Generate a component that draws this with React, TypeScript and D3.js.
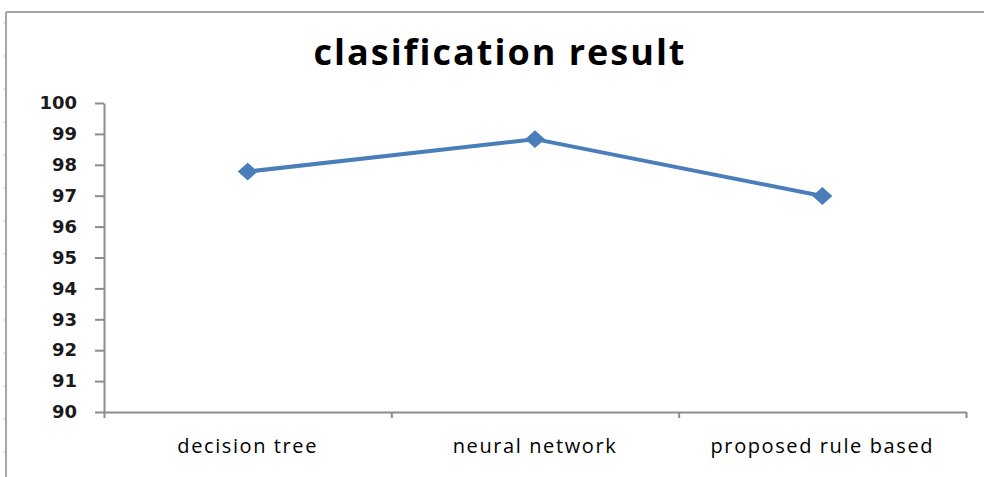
import { select, scalePoint, scaleLinear, axisBottom, axisLeft, line, symbol, symbolSquare, range } from 'd3';
import { useEffect, useRef } from 'react';

const categories = ['decision tree', 'neural network', 'proposed rule based'];
const accuracy = [97.78, 98.83, 96.99];
const yTicks = [90, 91, 92, 93, 94, 95, 96, 97, 98, 99, 100];
const chartTitle = 'clasification result';

/* Draws the classification line chart */
function LineChart() {
    const svgRef = useRef(null);
    const width = 984;
    const height = 477;
    var margin = {  // plot area
        top: 103,
        bottom: 65,
        left: 104,
        right: 18
    };

    useEffect(() => {
        document.body.style.margin = '0';
        const svg = select(svgRef.current)
            .attr('width', width)
            .attr('height', height);
        svg.selectAll('*').remove();

        // frame of the chart (top and left edges are visible)
        svg.append('line').attr('x1', 6).attr('x2', width).attr('y1', 12).attr('y2', 12)
            .attr('stroke', '#a6a6a6').attr('stroke-width', 2);
        svg.append('line').attr('x1', 6).attr('x2', 6).attr('y1', 12).attr('y2', height)
            .attr('stroke', '#a6a6a6').attr('stroke-width', 2);
        // faint ruler marks to the left of the frame
        svg.append('g').selectAll('line').data(range(23, height, 33)).enter()
            .append('line')
            .attr('x1', 3).attr('x2', 5).attr('y1', d => d).attr('y2', d => d)
            .attr('stroke', '#c8d0dc');

        // title
        svg.append('text')
            .attr('x', 500).attr('y', 65)
            .attr('text-anchor', 'middle')
            .attr('font-family', '"Open Sans", sans-serif')
            .attr('font-weight', 'bold')
            .attr('font-size', 36)
            .attr('letter-spacing', 2)
            .attr('fill', '#000')
            .text(chartTitle);

        const plotW = width - margin.left - margin.right;
        const step = plotW / categories.length;

        // points sit at the centre of each category band
        const xScale = scalePoint()
            .domain(categories)
            .range([margin.left + step / 2, width - margin.right - step / 2]);

        const yScale = scaleLinear()
            .domain([90, 100])
            .range([height - margin.bottom, margin.top]);

        // y axis
        const yAxis = svg.append('g')
            .attr('transform', `translate(${margin.left}, 0)`)
            .call(axisLeft(yScale).tickValues(yTicks).tickSize(9).tickSizeOuter(0).tickPadding(18));
        yAxis.selectAll('line, path').attr('stroke', '#8c8c8c').attr('stroke-width', 2);
        yAxis.selectAll('text')
            .attr('font-family', '"DejaVu Sans", Verdana, sans-serif')
            .attr('font-size', 18)
            .attr('font-weight', 'bold')
            .attr('fill', '#1a1a1a');

        // x axis: line plus ticks at category boundaries
        const xEdge = scaleLinear().domain([0, categories.length]).range([margin.left, width - margin.right]);
        const xAxis = svg.append('g')
            .attr('transform', `translate(0, ${height - margin.bottom})`)
            .call(axisBottom(xEdge).tickValues(range(0, categories.length + 1)).tickFormat(() => '').tickSize(6).tickSizeOuter(0));
        xAxis.selectAll('line, path').attr('stroke', '#8c8c8c').attr('stroke-width', 2);

        // category labels
        svg.append('g').selectAll('text').data(categories).enter()
            .append('text')
            .attr('x', d => xScale(d))
            .attr('y', height - margin.bottom + 41)
            .attr('text-anchor', 'middle')
            .attr('font-family', '"Open Sans", "DejaVu Sans", sans-serif')
            .attr('font-size', 20)
            .attr('letter-spacing', 1.6)
            .attr('fill', '#000')
            .text(d => d);

        // the series line
        const lineGen = line()
            .x((_, i) => xScale(categories[i]))
            .y(d => yScale(d));
        svg.append('path')
            .datum(accuracy)
            .attr('d', lineGen)
            .attr('fill', 'none')
            .attr('stroke', '#4a7ebb')
            .attr('stroke-width', 4)
            .attr('stroke-linejoin', 'round');

        // diamond markers
        svg.append('g').selectAll('path').data(accuracy).enter()
            .append('path')
            .attr('d', symbol().type(symbolSquare).size(160))
            .attr('transform', (d, i) => `translate(${xScale(categories[i])}, ${yScale(d)}) scale(1.12, 1) rotate(45)`)
            .attr('fill', '#4a7ebb');
    }, []);

    return (
        <svg ref={svgRef} style={{ display: 'block' }}></svg>
    );
}

export default function App() {
    return <LineChart />;
}
